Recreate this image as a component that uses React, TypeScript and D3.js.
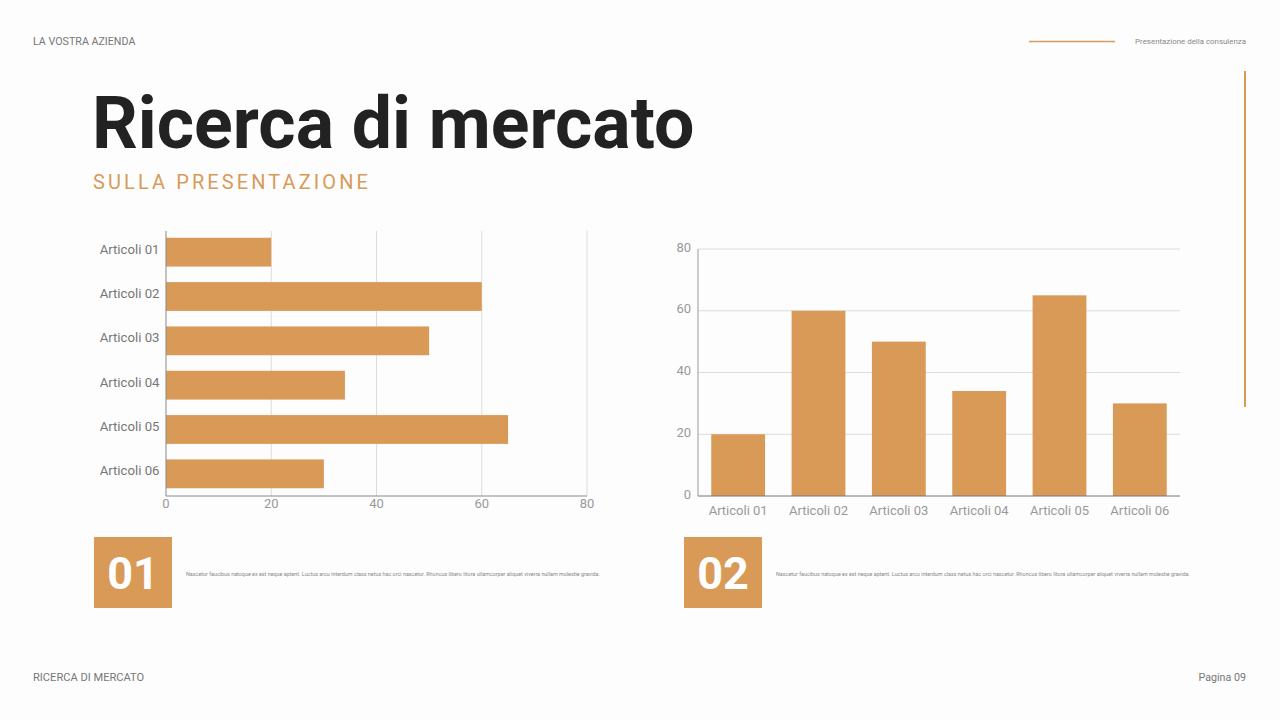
import { useEffect, useRef } from 'react';
import * as d3 from 'd3';

const categories = ['Articoli 01', 'Articoli 02', 'Articoli 03', 'Articoli 04', 'Articoli 05', 'Articoli 06'];
const barValues = [20, 60, 50, 34, 65, 30];
const columnValues = [20, 60, 50, 34, 65, 30];
const axisTicks = [0, 20, 40, 60, 80];
const badgeLabels = ['01', '02'];
const bodyText =
  'Nascetur faucibus natoque ex est neque aptent. Luctus arcu interdum class netus hac orci nascetur. Rhoncus libero litora ullamcorper aliquet viverra nullam molestie gravida.';

const ORANGE = '#d99a58';
const FONT = 'Roboto, "Noto Sans", sans-serif';

export default function App() {
  const svgRef = useRef<SVGSVGElement>(null);

  useEffect(() => {
    if (!svgRef.current) return;
    document.body.style.margin = '0';
    const svg = d3.select(svgRef.current);
    svg.selectAll('*').remove();

    svg.append('rect').attr('width', 1280).attr('height', 720).attr('fill', '#fdfdfe');

    // Header / footer
    svg.append('text').attr('x', 33).attr('y', 45).attr('font-size', 10.7).attr('fill', '#777')
      .text('LA VOSTRA AZIENDA');
    svg.append('line').attr('x1', 1029).attr('x2', 1115).attr('y1', 41.5).attr('y2', 41.5)
      .attr('stroke', ORANGE).attr('stroke-width', 1.5);
    svg.append('text').attr('x', 1246).attr('y', 44).attr('text-anchor', 'end').attr('font-size', 7.9)
      .attr('fill', '#888').text('Presentazione della consulenza');
    svg.append('line').attr('x1', 1245).attr('x2', 1245).attr('y1', 71).attr('y2', 407)
      .attr('stroke', ORANGE).attr('stroke-width', 2);
    svg.append('text').attr('x', 33).attr('y', 681).attr('font-size', 11.1).attr('fill', '#777')
      .text('RICERCA DI MERCATO');
    svg.append('text').attr('x', 1246).attr('y', 681).attr('text-anchor', 'end').attr('font-size', 10.7)
      .attr('fill', '#777').text('Pagina 09');

    // Title
    svg.append('text').attr('x', 92).attr('y', 148).attr('font-size', 71.6).attr('font-weight', 700)
      .attr('fill', '#222').text('Ricerca di mercato');
    svg.append('text').attr('x', 93).attr('y', 189).attr('font-size', 20).attr('letter-spacing', 3.1)
      .attr('fill', ORANGE).text('SULLA PRESENTAZIONE');

    // Chart 1: horizontal bars
    const x1 = d3.scaleLinear().domain([0, 80]).range([166, 587]);
    const y1 = d3.scaleBand<string>().domain(categories).range([230, 496])
      .paddingInner(0.35).paddingOuter(0.175);
    const c1 = svg.append('g');
    c1.selectAll('.grid').data(axisTicks.slice(1)).enter().append('line')
      .attr('x1', d => x1(d)).attr('x2', d => x1(d)).attr('y1', 231).attr('y2', 496)
      .attr('stroke', '#dcdcdc').attr('stroke-width', 1);
    c1.selectAll('.bar').data(barValues).enter().append('rect')
      .attr('x', x1(0)).attr('y', (_, i) => y1(categories[i])!)
      .attr('width', d => x1(d) - x1(0)).attr('height', y1.bandwidth()).attr('fill', ORANGE);
    c1.append('line').attr('x1', 166).attr('x2', 166).attr('y1', 231).attr('y2', 496)
      .attr('stroke', '#888').attr('stroke-width', 1);
    c1.append('line').attr('x1', 166).attr('x2', 587).attr('y1', 496).attr('y2', 496)
      .attr('stroke', '#888').attr('stroke-width', 1);
    c1.selectAll('.cat').data(categories).enter().append('text')
      .attr('x', 159.5).attr('y', d => y1(d)! + y1.bandwidth() / 2 - 3).attr('dy', '0.35em')
      .attr('text-anchor', 'end').attr('font-size', 13.2).attr('fill', '#777').text(d => d);
    c1.selectAll('.tick').data(axisTicks).enter().append('text')
      .attr('x', d => x1(d)).attr('y', 503).attr('dy', '0.35em').attr('text-anchor', 'middle')
      .attr('font-size', 13).attr('fill', '#999').text(d => d);

    // Chart 2: vertical columns
    const x2 = d3.scaleBand<string>().domain(categories).range([698, 1180])
      .paddingInner(0.33).paddingOuter(0.165);
    const y2 = d3.scaleLinear().domain([0, 80]).range([496, 249]);
    const c2 = svg.append('g');
    c2.selectAll('.grid').data(axisTicks.slice(1)).enter().append('line')
      .attr('x1', 698).attr('x2', 1180).attr('y1', d => y2(d)).attr('y2', d => y2(d))
      .attr('stroke', '#dcdcdc').attr('stroke-width', 1);
    c2.selectAll('.bar').data(columnValues).enter().append('rect')
      .attr('x', (_, i) => x2(categories[i])!).attr('y', d => y2(d))
      .attr('width', x2.bandwidth()).attr('height', d => y2(0) - y2(d)).attr('fill', ORANGE);
    c2.append('line').attr('x1', 698).attr('x2', 698).attr('y1', 249).attr('y2', 496)
      .attr('stroke', '#999').attr('stroke-width', 1);
    c2.append('line').attr('x1', 698).attr('x2', 1180).attr('y1', 496).attr('y2', 496)
      .attr('stroke', '#777').attr('stroke-width', 1);
    c2.selectAll('.tick').data(axisTicks).enter().append('text')
      .attr('x', 691).attr('y', d => y2(d) - 2).attr('dy', '0.35em').attr('text-anchor', 'end')
      .attr('font-size', 13).attr('fill', '#999').text(d => d);
    c2.selectAll('.cat').data(categories).enter().append('text')
      .attr('x', d => x2(d)! + x2.bandwidth() / 2).attr('y', 510).attr('dy', '0.35em')
      .attr('text-anchor', 'middle').attr('font-size', 13).attr('fill', '#999').text(d => d);

    // Badges with notes
    const badgeX = [94, 684];
    badgeLabels.forEach((label, i) => {
      const g = svg.append('g').attr('transform', `translate(${badgeX[i]}, 537)`);
      g.append('rect').attr('width', 78).attr('height', 71).attr('fill', ORANGE);
      g.append('text').attr('x', 39).attr('y', 52).attr('text-anchor', 'middle').attr('font-size', 45)
        .attr('font-weight', 700).attr('fill', '#fff').text(label);
      g.append('text').attr('x', 92).attr('y', 39).attr('font-size', 5.4).attr('fill', '#888')
        .text(bodyText);
    });
  }, []);

  return (
    <svg
      ref={svgRef}
      width={1280}
      height={720}
      style={{ display: 'block', fontFamily: FONT }}
    />
  );
}
